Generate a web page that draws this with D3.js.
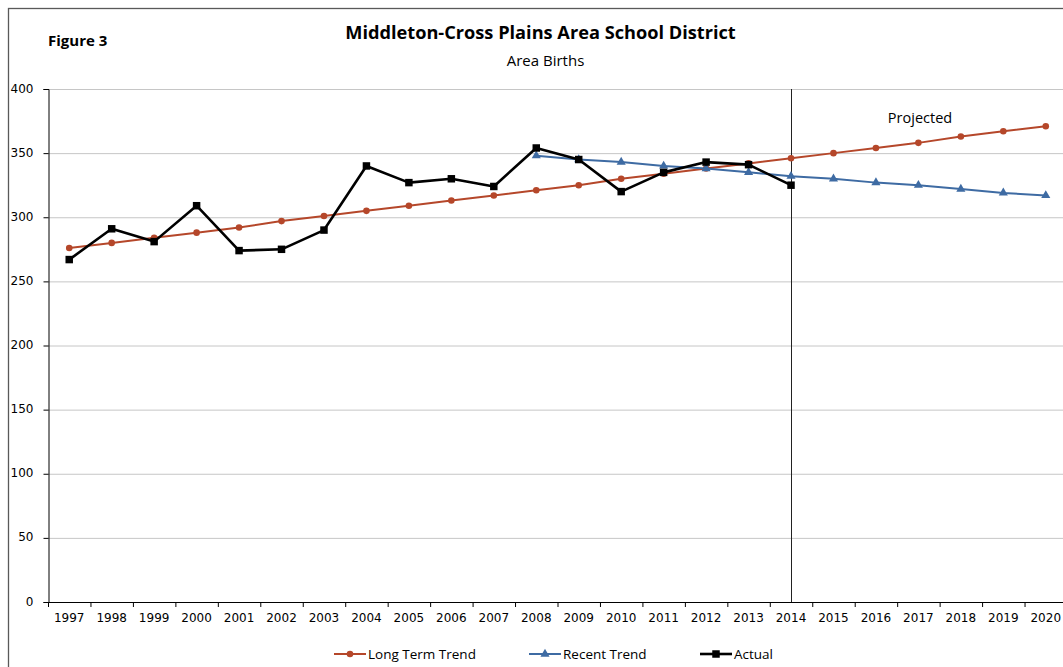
<!DOCTYPE html>
<html>
<head>
<meta charset="utf-8">
<script src="https://cdn.jsdelivr.net/npm/d3@7"></script>
<style>
  body { margin: 0; background: #fff; }
  .tick text, .xlbl { font-family: "DejaVu Sans", sans-serif; }
  .title { font-family: "Open Sans", sans-serif; font-weight: bold; }
  .lbl { font-family: "Open Sans", sans-serif; }
</style>
</head>
<body>
<div id="chart"></div>
<script>
// chart data
const years = d3.range(1997, 2021).map(String);
const longTermTrend = [276, 280, 284, 288, 292, 297, 301, 305, 309, 313, 317, 321,
                       325, 330, 334, 338, 342, 346, 350, 354, 358, 363, 367, 371];
const recentYears = ["2008", "2009", "2010", "2011", "2012", "2013", "2014",
                     "2015", "2016", "2017", "2018", "2019", "2020"];
const recentTrend = [348, 345, 343, 340, 338, 335, 332, 330, 327, 325, 322, 319, 317];
const actualYears = d3.range(1997, 2015).map(String);
const actual = [267, 291, 281, 309, 274, 275, 290, 340, 327, 330, 324, 354,
                345, 320, 335, 343, 341, 325];
const yTicks = [0, 50, 100, 150, 200, 250, 300, 350, 400];
const projectedFrom = "2014";

const width = 1063, height = 667;
const svg = d3.select("#chart").append("svg")
    .attr("width", width)
    .attr("height", height);

// outer chart border (runs off the right/bottom of the picture)
svg.append("rect")
    .attr("x", 8.5).attr("y", 8.5)
    .attr("width", 1080).attr("height", 700)
    .attr("fill", "none")
    .attr("stroke", "#595959")
    .attr("stroke-width", 1.3);

const plot = { left: 48, right: 1067, top: 89, bottom: 602 };

const x = d3.scaleBand().domain(years).range([plot.left, plot.right]).padding(0);
const cx = d => x(d) + x.bandwidth() / 2;
const y = d3.scaleLinear().domain([0, 400]).range([plot.bottom, plot.top]);

// gridlines
svg.append("g").selectAll("line")
    .data(yTicks.filter(t => t > 0))
    .join("line")
    .attr("x1", plot.left).attr("x2", plot.right)
    .attr("y1", d => y(d) + 0.5).attr("y2", d => y(d) + 0.5)
    .attr("stroke", "#c6c6c6").attr("stroke-width", 1);

// y axis
const yAxis = svg.append("g")
    .attr("transform", `translate(${plot.left + 0.5},0)`)
    .call(d3.axisLeft(y).tickValues(yTicks).tickSize(5).tickPadding(4));
yAxis.select(".domain").attr("stroke", "#000");
yAxis.selectAll("text").attr("font-size", 12).attr("fill", "#000")
    .attr("x", -15).attr("dy", "0.25em");

// x axis: ticks between categories
const xAxis = svg.append("g");
xAxis.append("line")
    .attr("x1", plot.left).attr("x2", plot.right)
    .attr("y1", plot.bottom + 0.5).attr("y2", plot.bottom + 0.5)
    .attr("stroke", "#000");
xAxis.selectAll(".tk")
    .data(years.concat(["end"]))
    .join("line")
    .attr("class", "tk")
    .attr("x1", d => (d === "end" ? plot.right : x(d)) + 0.5)
    .attr("x2", d => (d === "end" ? plot.right : x(d)) + 0.5)
    .attr("y1", plot.bottom).attr("y2", plot.bottom + 5)
    .attr("stroke", "#000");
xAxis.selectAll(".xlbl")
    .data(years)
    .join("text")
    .attr("class", "xlbl")
    .attr("x", d => cx(d))
    .attr("y", plot.bottom + 20)
    .attr("text-anchor", "middle")
    .attr("font-size", 12)
    .text(d => d);

// projection divider
svg.append("line")
    .attr("x1", Math.round(cx(projectedFrom)) + 0.5)
    .attr("x2", Math.round(cx(projectedFrom)) + 0.5)
    .attr("y1", plot.top).attr("y2", plot.bottom)
    .attr("stroke", "#222").attr("stroke-width", 1);

// series
const series = [
  { name: "Long Term Trend", xs: years, vals: longTermTrend, color: "#b5472a", w: 2, marker: "circle" },
  { name: "Recent Trend", xs: recentYears, vals: recentTrend, color: "#3e6ba3", w: 2, marker: "triangle" },
  { name: "Actual", xs: actualYears, vals: actual, color: "#000", w: 2.6, marker: "square" }
];

const line = d3.line().x(d => cx(d[0])).y(d => y(d[1]));
const symbolOf = {
  circle: d3.symbol().type(d3.symbolCircle).size(34),
  triangle: d3.symbol().type(d3.symbolTriangle).size(36),
  square: d3.symbol().type(d3.symbolSquare).size(56)
};

series.forEach(s => {
  const pts = s.xs.map((yr, i) => [yr, s.vals[i]]);
  svg.append("path")
      .datum(pts)
      .attr("d", line)
      .attr("fill", "none")
      .attr("stroke", s.color)
      .attr("stroke-width", s.w)
      .attr("stroke-linejoin", "round");
  svg.append("g").selectAll("path")
      .data(pts)
      .join("path")
      .attr("transform", d => `translate(${cx(d[0])},${y(d[1])})`)
      .attr("d", symbolOf[s.marker])
      .attr("fill", s.color);
});

// titles
svg.append("text").attr("class", "title")
    .attr("x", 540.5).attr("y", 38.5)
    .attr("text-anchor", "middle")
    .attr("font-size", 18.2)
    .text("Middleton-Cross Plains Area School District");
svg.append("text").attr("class", "lbl")
    .attr("x", 545.5).attr("y", 66)
    .attr("text-anchor", "middle")
    .attr("font-size", 15)
    .text("Area Births");
svg.append("text").attr("class", "title")
    .attr("x", 48).attr("y", 46)
    .attr("font-size", 15)
    .text("Figure 3");
svg.append("text").attr("class", "lbl")
    .attr("x", 920).attr("y", 123)
    .attr("text-anchor", "middle")
    .attr("font-size", 14.5)
    .text("Projected");

// legend
const legendX = [334, 529, 700];
const legend = svg.append("g");
series.forEach((s, i) => {
  const g = legend.append("g").attr("transform", `translate(${legendX[i]},654)`);
  g.append("line").attr("x1", 0).attr("x2", 32).attr("y1", 0).attr("y2", 0)
      .attr("stroke", s.color).attr("stroke-width", s.w);
  g.append("path").attr("transform", "translate(16,0)")
      .attr("d", symbolOf[s.marker]).attr("fill", s.color);
  g.append("text").attr("class", "lbl")
      .attr("x", 34).attr("y", 5)
      .attr("font-size", 13.5)
      .text(s.name);
});
</script>
</body>
</html>
